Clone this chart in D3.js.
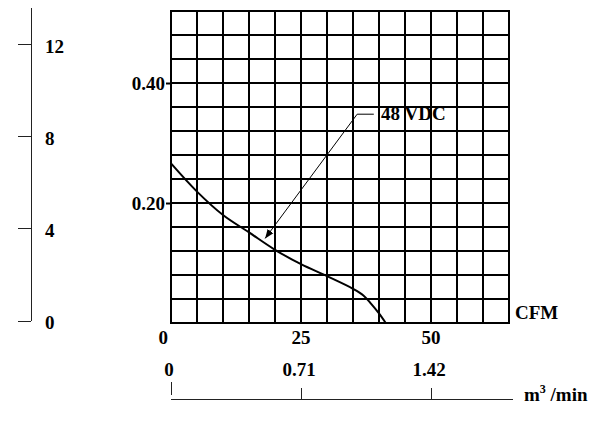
<!DOCTYPE html>
<html>
<head>
<meta charset="utf-8">
<script src="https://cdn.jsdelivr.net/npm/d3@7"></script>
<style>
  body { margin: 0; background: #fff; }
  text { font-family: "Liberation Serif", "Times New Roman", serif; font-weight: bold; fill: #000; }
  .thin { shape-rendering: crispEdges; }
</style>
</head>
<body>
<div id="chart"></div>
<script>
// airflow (CFM) vs static pressure (inch H2O), 48 VDC fan
let cfm      = [0, 5, 10, 15, 20, 25, 30, 35, 37, 38.5, 40, 41.3];
let pressure = [0.266, 0.219, 0.18, 0.151, 0.122, 0.098, 0.078, 0.057, 0.046, 0.032, 0.016, 0];

let cfmTicks = [0, 25, 50];
let m3Ticks = [0, 0.71, 1.42];
let inchTicks = [0.20, 0.40];
let mmTicks = [0, 4, 8, 12];
let seriesLabel = "48 VDC";

let width = 594, height = 422;
let fs = "19px";

let svg = d3.select("#chart").append("svg")
  .attr("width", width)
  .attr("height", height);

// scales
let x = d3.scaleLinear().domain([0, 65]).range([171, 509]);
let y = d3.scaleLinear().domain([0, 0.52]).range([323, 11]);
let xm3 = d3.scaleLinear().domain([0, 0.71 * 65 / 25]).range([171, 509]);
let ymm = d3.scaleLinear().domain([0, 13.6]).range([321, 8]);

// grid
let grid = svg.append("g").attr("stroke", "#000").attr("stroke-width", 2);
grid.selectAll(".v").data(d3.range(0, 65.1, 5)).enter()
  .append("line")
  .attr("x1", d => x(d)).attr("x2", d => x(d))
  .attr("y1", y(0) + 1).attr("y2", y(0.52) - 1);
grid.selectAll(".h").data(d3.range(0, 13.5).map(i => i * 0.04)).enter()
  .append("line")
  .attr("x1", x(0) - 1).attr("x2", x(65) + 1)
  .attr("y1", d => y(d)).attr("y2", d => y(d));

// inch H2O labels
let yAxis = d3.axisLeft(y).tickValues(inchTicks).tickSize(5).tickPadding(1)
  .tickFormat(d3.format(".2f"));
let ya = svg.append("g").attr("transform", "translate(" + x(0) + ",0)").call(yAxis);
ya.select(".domain").remove();
ya.selectAll("line").attr("stroke", "#000").attr("stroke-width", 2);
ya.selectAll("text").style("font-size", fs).attr("font-family", null);

// CFM labels
svg.selectAll(".cfm").data(cfmTicks).enter()
  .append("text")
  .attr("x", d => d === 0 ? x(d) - 3 : x(d))
  .attr("y", 344)
  .attr("text-anchor", d => d === 0 ? "end" : "middle")
  .style("font-size", fs)
  .text(d => d);

svg.append("text")
  .attr("x", 515).attr("y", 319)
  .style("font-size", fs)
  .text("CFM");

// m3/min axis
let m3axis = svg.append("g").attr("class", "thin").attr("stroke", "#222").attr("stroke-width", 1);
m3axis.append("line")
  .attr("x1", xm3(0)).attr("x2", 513)
  .attr("y1", 399).attr("y2", 399);
m3axis.selectAll(".m3tick").data(m3Ticks).enter()
  .append("line")
  .attr("x1", d => xm3(d)).attr("x2", d => xm3(d))
  .attr("y1", d => d === 0 ? 382 : 388)
  .attr("y2", d => d === 0 ? 395 : 399);
svg.selectAll(".m3lab").data(m3Ticks).enter()
  .append("text")
  .attr("x", d => xm3(d) - 2)
  .attr("y", 376)
  .attr("text-anchor", "middle")
  .style("font-size", fs)
  .text(d => d);

let m3 = svg.append("text").attr("x", 524).attr("y", 401).style("font-size", fs);
m3.append("tspan").text("m");
m3.append("tspan").attr("dy", -8).style("font-size", "12px").text("3");
m3.append("tspan").attr("dy", 8).text(" /min");

// mm H2O axis on the far left
let mmaxis = svg.append("g").attr("class", "thin").attr("stroke", "#222").attr("stroke-width", 1);
mmaxis.append("line")
  .attr("x1", 31).attr("x2", 31)
  .attr("y1", ymm(13.6)).attr("y2", ymm(0));
mmaxis.selectAll(".mmtick").data(mmTicks).enter()
  .append("line")
  .attr("x1", 18).attr("x2", 31)
  .attr("y1", d => ymm(d)).attr("y2", d => ymm(d));
svg.selectAll(".mmlab").data(mmTicks).enter()
  .append("text")
  .attr("x", 45)
  .attr("y", d => ymm(d) + 8)
  .style("font-size", fs)
  .text(d => d);

// curve
let pts = cfm.map((c, i) => [c, pressure[i]]);
let line = d3.line()
  .x(d => x(d[0]))
  .y(d => y(d[1]))
  .curve(d3.curveCatmullRom);
svg.append("path")
  .attr("d", line(pts))
  .attr("fill", "none")
  .attr("stroke", "#000")
  .attr("stroke-width", 2);

// annotation arrow
svg.append("defs").append("marker")
  .attr("id", "arrow")
  .attr("viewBox", "0 0 10 10")
  .attr("refX", 10).attr("refY", 5)
  .attr("markerWidth", 9).attr("markerHeight", 9)
  .attr("markerUnits", "userSpaceOnUse")
  .attr("orient", "auto")
  .append("path")
  .attr("d", "M0,1L10,5L0,9Z")
  .attr("fill", "#000");

let arrowPts = [[39, 0.348], [35.8, 0.348], [18.1, 0.141]];
svg.append("path")
  .attr("d", d3.line().x(d => x(d[0])).y(d => y(d[1]))(arrowPts))
  .attr("fill", "none")
  .attr("stroke", "#000")
  .attr("stroke-width", 1)
  .attr("marker-end", "url(#arrow)");

svg.append("text")
  .attr("x", x(40.4)).attr("y", 120)
  .style("font-size", fs)
  .text(seriesLabel);
</script>
</body>
</html>
